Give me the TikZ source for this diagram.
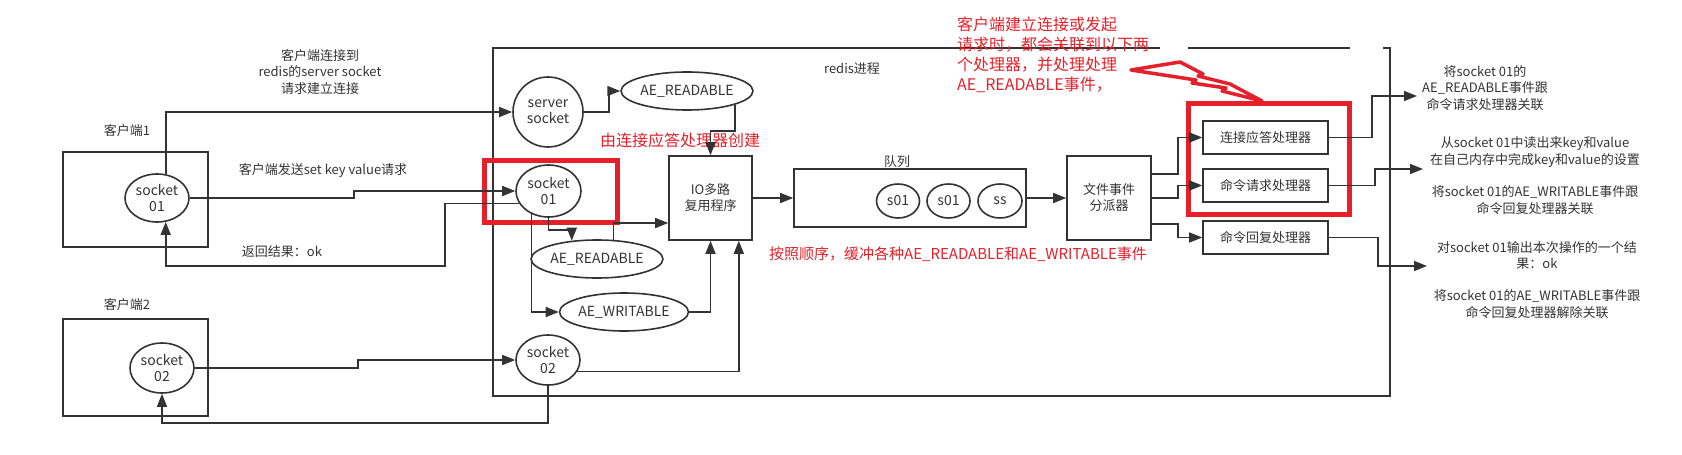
\documentclass[tikz,border=0pt]{standalone}
\usepackage{fontspec}
\setmainfont{Noto Sans CJK SC}
\usetikzlibrary{arrows.meta,shapes.geometric,calc}
\definecolor{linegray}{HTML}{333333}
\definecolor{markred}{HTML}{E5202A}
\tikzset{
  wire/.style={draw=linegray, line width=1.6pt},
  sockell/.style={ellipse, draw=linegray, line width=1.6pt, inner sep=0pt, align=center, text=linegray, font=\fontsize{14}{16}\selectfont},
  evtell/.style={ellipse, draw=linegray, line width=1.6pt, inner sep=0pt, minimum width=112pt, minimum height=38pt, text=linegray, font=\fontsize{14}{16}\selectfont},
  procbox/.style={rectangle, draw=linegray, line width=1.6pt, inner sep=0pt, align=center, text=linegray, font=\fontsize{13}{16}\selectfont},
  note/.style={align=center, text=linegray, inner sep=0pt, font=\fontsize{13}{16.5}\selectfont},
  rednote/.style={text=markred, inner sep=0pt, font=\fontsize{16}{20}\selectfont},
  hilite/.style={draw=markred, line width=5pt},
}

\begin{document}
\begin{tikzpicture}[x=1pt, y=-1pt, >={Triangle[length=13pt,width=10pt]}]
    \useasboundingbox (0,0) rectangle (1682,455);

    % Client 1
    \node[procbox, minimum width=145pt, minimum height=95pt] (c1box) at (135.5,199.5) {};
    \node[note] (c1lbl) at (127,131) {客户端1};
    \node[sockell, minimum width=64pt, minimum height=48pt] (c1sock) at (157,198) {socket\\01};

    % Client 2
    \node[procbox, minimum width=145pt, minimum height=97pt] (c2box) at (135.5,367.5) {};
    \node[note] (c2lbl) at (127,305) {客户端2};
    \node[sockell, minimum width=64pt, minimum height=50pt] (c2sock) at (162,368) {socket\\02};

    % Redis process frame
    \draw[wire] (1160,48) -- (493,48) -- (493,396) -- (1390,396) -- (1390,48) -- (1383,48);
    \draw[wire] (1188,48) -- (1350,48);
    \node[note] (redislbl) at (852,69) {redis进程};

    % Sockets on the server side
    \node[sockell, circle, minimum size=70pt] (srvsock) at (548,112) {server\\socket};
    \node[sockell, minimum width=65pt, minimum height=52pt] (sock1) at (548.5,191) {socket\\01};
    \node[sockell, minimum width=64pt, minimum height=50pt] (sock2) at (548,360) {socket\\02};

    % Events
    \node[evtell] (rdA) at (687,91) {AE\_READABLE};
    \node[evtell] (rdB) at (597,259) {AE\_READABLE};
    \node[evtell] (wrA) at (624,312) {AE\_WRITABLE};

    % IO multiplexer and queue
    \node[procbox, minimum width=83pt, minimum height=84pt] (io) at (710.5,198) {IO多路\\复用程序};
    \node[procbox, minimum width=232pt, minimum height=58pt] (queue) at (910,198) {};
    \node[note] (queuelbl) at (897,162) {队列};
    \node[sockell, minimum width=43pt, minimum height=34pt] (q1) at (898,201) {s01};
    \node[sockell, minimum width=43pt, minimum height=34pt] (q2) at (948.5,201) {s01};
    \node[sockell, minimum width=44pt, minimum height=34pt] (q3) at (1000,201) {ss};

    % Dispatcher and handlers
    \node[procbox, minimum width=84pt, minimum height=84pt] (disp) at (1109,198) {文件事件\\分派器};
    \node[procbox, minimum width=125pt, minimum height=33pt] (h1) at (1265.5,137.5) {连接应答处理器};
    \node[procbox, minimum width=125pt, minimum height=33pt] (h2) at (1265.5,185.5) {命令请求处理器};
    \node[procbox, minimum width=125pt, minimum height=33pt] (h3) at (1265.5,237.5) {命令回复处理器};

    % Notes
    \node[note] (n1) at (320,72) {客户端连接到\\redis的server socket\\请求建立连接};
    \node[note] (n2) at (323,171) {客户端发送set key value请求};
    \node[note] (n3) at (282,252) {返回结果：ok};
    \node[note] (r1) at (1485,88) {将socket 01的\\AE\_READABLE事件跟\\命令请求处理器关联};
    \node[note] (r2) at (1535,152) {从socket 01中读出来key和value\\在自己内存中完成key和value的设置};
    \node[note] (r3) at (1535,200) {将socket 01的AE\_WRITABLE事件跟\\命令回复处理器关联};
    \node[note] (r4) at (1537,255.5) {对socket 01输出本次操作的一个结\\果：ok};
    \node[note] (r5) at (1537,304) {将socket 01的AE\_WRITABLE事件跟\\命令回复处理器解除关联};

    % Red remarks
    \node[rednote] (redn1) at (680,140) {由连接应答处理器创建};
    \node[rednote, font=\fontsize{15}{20}\selectfont] (redn2) at (958,254) {按照顺序，缓冲各种AE\_READABLE和AE\_WRITABLE事件};
    \node[rednote, align=left, anchor=west] (redcall) at (957,55) {客户端建立连接或发起\\请求时，都会关联到以下两\\个处理器，并处理处理\\AE\_READABLE事件，};
    \draw[markred, line width=3.5pt, line join=round] (1131,70) -- (1180,62) -- (1203,74) -- (1198,76) -- (1230,84) -- (1262,101)
        -- (1222,91) -- (1226,88) -- (1192,83) -- (1196,80) -- cycle;
    \draw[hilite] (484,160) rectangle (617,222);
    \draw[hilite] (1188,103) rectangle (1349,214);

    % Free ends
    \coordinate (retA) at (445,266);
    \coordinate (o1) at (1417,96);
    \coordinate (o2) at (1423,169);
    \coordinate (o3) at (1427,266);

    % Client 1 <-> redis
    \draw[wire,->] (c1sock.70) |- (srvsock.west);
    \draw[wire,->] (c1sock.east) -- ++(164,0) |- (sock1.west);
    \draw[wire,->] (sock1.203) -| (retA) -| (c1sock.-70);

    % Client 2 <-> redis
    \draw[wire,->] (c2sock.east) -- ++(163,0) |- (sock2.west);
    \draw[wire,->] (sock2.south) -- ++(0,37) -| (c2sock.south);

    % Events into IO
    \draw[wire,->] (srvsock.east) -- ++(25,0) |- (rdA.west);
    \draw[wire,->] (rdA.-16) -- ++(0,26) -| (io.north);
    \draw[wire,->] (sock1.south) -- ++(0,12) -| (rdB.144);
    \draw[wire,->] (rdB.49) |- ($(io.west)+(0,25)$);
    \draw[wire,->] (sock1.234) |- (wrA.west);
    \draw[wire,->] (wrA.east) -| (io.south);
    \draw[wire,->] (sock2.-21) -| ($(io.south east)+(-14,0)$);

    % Queue and dispatch
    \draw[wire,->] (io.east) -- (queue.west);
    \draw[wire,->] (queue.east) -- (disp.west);
    \draw[wire,->] ($(disp.east)+(0,-24)$) -- ++(26,0) |- (h1.west);
    \draw[wire,->] (disp.east) -- ++(26,0) |- (h2.west);
    \draw[wire,->] ($(disp.east)+(0,26)$) -- ++(26,0) |- (h3.west);

    % Handlers to results
    \draw[wire,->] (h1.east) -- ++(43,0) |- (o1);
    \draw[wire,->] (h2.east) -- ++(46,0) |- (o2);
    \draw[wire,->] (h3.east) -- ++(49,0) |- (o3);
\end{tikzpicture}
\end{document}
